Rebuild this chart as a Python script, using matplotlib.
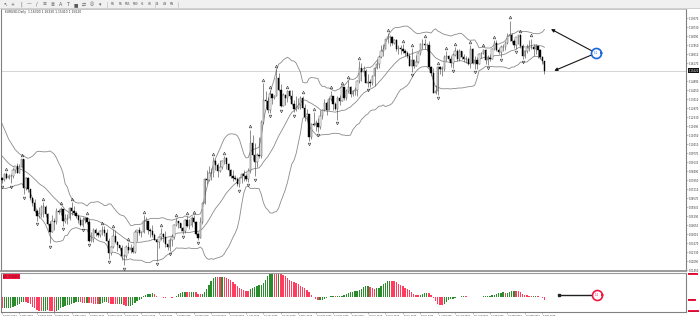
import numpy as np
import pandas as pd
import matplotlib
matplotlib.use("Agg")
import matplotlib.pyplot as plt

plt.rcParams['font.family'] = ['DejaVu Sans']

SYMBOL = "EURUSD,Daily"
PRE_BARS = 37          # bars before the first visible bar (history for BB / AO)
FIRST_OPEN = 1.1050

# ---------------- daily bars, 2 Sep 2024 .. 9 Oct 2025 ----------------
CLOSE = [
    # Sep 2024
    1.1073,1.1044,1.1089,1.1111,1.1085,1.1040,1.1039,1.1012,1.1075,1.1076,1.1132,1.1115,1.1118,1.1160,1.1163,1.1112,1.1180,1.1134,1.1177,1.1163,1.1134,
    # Oct 1-22 2024
    1.1067,1.1045,1.1032,1.0975,1.0975,1.0980,1.0941,1.0936,1.0937,1.0909,1.0891,1.0862,1.0833,1.0867,1.0817,1.0797,
    # Oct 23-31 2024
    1.0783,1.0827,1.0796,1.0815,1.0815,1.0856,1.0883,
    # Nov 2024
    1.0834,1.0879,1.0932,1.0729,1.0802,1.0718,1.0654,1.0623,1.0566,1.0530,1.0541,1.0596,1.0596,1.0545,1.0472,1.0418,1.0495,1.0488,1.0567,1.0556,1.0576,
    # Dec 2024
    1.0497,1.0510,1.0512,1.0587,1.0567,1.0554,1.0529,1.0500,1.0467,1.0502,1.0513,1.0490,1.0350,1.0365,1.0429,1.0406,1.0397,1.0421,1.0429,1.0409,1.0354,
    # Jan 2025
    1.0265,1.0307,1.0390,1.0341,1.0320,1.0300,1.0244,1.0244,1.0306,1.0291,1.0300,1.0272,1.0416,1.0431,1.0410,1.0414,1.0495,1.0492,1.0431,1.0422,1.0392,1.0362,
    # Feb 2025
    1.0345,1.0379,1.0402,1.0382,1.0328,1.0308,1.0362,1.0383,1.0462,1.0493,1.0481,1.0446,1.0420,1.0500,1.0459,1.0466,1.0513,1.0484,1.0398,1.0375,
    # Mar 2025
    1.0484,1.0624,1.0790,1.0783,1.0834,1.0832,1.0918,1.0889,1.0852,1.0880,1.0922,1.0941,1.0901,1.0853,1.0815,1.0800,1.0791,1.0754,1.0801,1.0829,1.0817,
    # Apr 2025
    1.0791,1.0852,1.1048,1.0961,1.0910,1.0960,1.0953,1.1195,1.1357,1.1346,1.1285,1.1400,1.1367,1.1382,1.1511,1.1427,1.1311,1.1389,1.1366,1.1421,1.1384,1.1328,
    # May 2025
    1.1292,1.1298,1.1315,1.1370,1.1300,1.1233,1.1251,1.1089,1.1184,1.1175,1.1187,1.1163,1.1241,1.1280,1.1332,1.1283,1.1363,1.1383,1.1326,1.1290,1.1369,1.1347,
    # Jun 2025
    1.1443,1.1371,1.1420,1.1446,1.1395,1.1419,1.1422,1.1487,1.1585,1.1550,1.1562,1.1478,1.1480,1.1478,1.1522,1.1579,1.1608,1.1661,1.1700,1.1718,1.1787,
    # Jul 2025
    1.1802,1.1800,1.1759,1.1778,1.1714,1.1725,1.1719,1.1701,1.1689,1.1667,1.1598,1.1641,1.1597,1.1627,1.1690,1.1754,1.1755,1.1742,1.1742,1.1589,1.1546,1.1404,1.1415,
    # Aug 2025
    1.1587,1.1572,1.1573,1.1660,1.1665,1.1642,1.1615,1.1676,1.1705,1.1648,1.1700,1.1662,1.1649,1.1648,1.1610,1.1718,1.1618,1.1640,1.1609,1.1680,1.1685,
    # Sep 2025
    1.1711,1.1640,1.1653,1.1646,1.1718,1.1762,1.1710,1.1696,1.1733,1.1733,1.1762,1.1812,1.1815,1.1776,1.1746,1.1800,1.1815,1.1737,1.1665,1.1702,1.1727,1.1734,
    # Oct 1-9 2025
    1.1732,1.1717,1.1740,1.1711,1.1658,1.1630,1.1562,
]
HIGH = [
    1.1090,1.1078,1.1090,1.1120,1.1155,1.1088,1.1068,1.1063,1.1084,1.1109,1.1138,1.1147,1.1189,1.1180,1.1190,1.1168,1.1188,1.1214,1.1189,1.1202,1.1209,
    1.1148,1.1083,1.1060,1.1036,1.0987,1.0990,1.0982,1.0956,1.0954,1.0941,1.0913,1.0898,1.0870,1.0870,1.0868,1.0836,
    1.0803,1.0837,1.0839,1.0827,1.0825,1.0871,1.0885,
    1.0905,1.0900,1.0937,1.0937,1.0806,1.0803,1.0721,1.0659,1.0651,1.0578,1.0594,1.0607,1.0630,1.0610,1.0549,1.0496,1.0533,1.0515,1.0586,1.0580,1.0596,
    1.0577,1.0544,1.0545,1.0590,1.0630,1.0597,1.0565,1.0543,1.0525,1.0523,1.0522,1.0525,1.0505,1.0412,1.0447,1.0444,1.0414,1.0432,1.0456,1.0456,1.0436,
    1.0375,1.0318,1.0437,1.0433,1.0354,1.0325,1.0322,1.0256,1.0320,1.0344,1.0333,1.0317,1.0433,1.0433,1.0450,1.0422,1.0533,1.0520,1.0496,1.0443,1.0468,1.0405,
    1.0350,1.0387,1.0442,1.0407,1.0425,1.0332,1.0375,1.0400,1.0470,1.0514,1.0497,1.0482,1.0451,1.0505,1.0528,1.0505,1.0527,1.0536,1.0492,1.0418,
    1.0522,1.0630,1.0796,1.0854,1.0888,1.0867,1.0947,1.0935,1.0903,1.0925,1.0929,1.0955,1.0951,1.0905,1.0861,1.0858,1.0821,1.0810,1.0803,1.0838,1.0857,
    1.0826,1.0867,1.1144,1.1107,1.1046,1.0980,1.1090,1.1215,1.1474,1.1420,1.1376,1.1423,1.1407,1.1390,1.1573,1.1544,1.1465,1.1402,1.1394,1.1425,1.1422,1.1424,
    1.1354,1.1380,1.1367,1.1380,1.1385,1.1323,1.1293,1.1240,1.1192,1.1266,1.1212,1.1227,1.1286,1.1288,1.1363,1.1346,1.1376,1.1420,1.1383,1.1338,1.1384,1.1386,
    1.1454,1.1448,1.1434,1.1495,1.1451,1.1428,1.1449,1.1494,1.1631,1.1614,1.1593,1.1575,1.1539,1.1504,1.1530,1.1590,1.1641,1.1669,1.1745,1.1753,1.1790,
    1.1829,1.1818,1.1808,1.1790,1.1790,1.1743,1.1747,1.1750,1.1720,1.1700,1.1688,1.1721,1.1643,1.1673,1.1697,1.1759,1.1788,1.1789,1.1760,1.1771,1.1598,1.1578,1.1463,
    1.1597,1.1595,1.1597,1.1671,1.1699,1.1672,1.1667,1.1687,1.1730,1.1719,1.1716,1.1700,1.1683,1.1670,1.1660,1.1742,1.1722,1.1670,1.1658,1.1690,1.1694,
    1.1720,1.1719,1.1677,1.1680,1.1725,1.1780,1.1780,1.1727,1.1745,1.1750,1.1772,1.1828,1.1919,1.1832,1.1791,1.1802,1.1818,1.1821,1.1750,1.1712,1.1755,1.1778,
    1.1790,1.1750,1.1750,1.1726,1.1717,1.1665,1.1633,
]
LOW = [
    1.1040,1.1024,1.1032,1.1075,1.1068,1.1028,1.1003,1.1002,1.1003,1.1069,1.1070,1.1101,1.1083,1.1090,1.1130,1.1083,1.1107,1.1122,1.1120,1.1131,1.1128,
    1.1045,1.1027,1.1007,1.0951,1.0953,1.0955,1.0940,1.0905,1.0922,1.0898,1.0870,1.0856,1.0811,1.0825,1.0813,1.0793,
    1.0761,1.0776,1.0792,1.0790,1.0761,1.0800,1.0832,
    1.0833,1.0845,1.0871,1.0683,1.0711,1.0703,1.0640,1.0597,1.0561,1.0496,1.0517,1.0524,1.0524,1.0523,1.0462,1.0335,1.0424,1.0428,1.0470,1.0540,1.0533,
    1.0460,1.0480,1.0470,1.0500,1.0537,1.0539,1.0517,1.0480,1.0457,1.0452,1.0480,1.0475,1.0343,1.0343,1.0343,1.0384,1.0378,1.0382,1.0397,1.0390,1.0349,
    1.0226,1.0253,1.0301,1.0339,1.0283,1.0284,1.0215,1.0178,1.0228,1.0267,1.0265,1.0266,1.0267,1.0350,1.0393,1.0380,1.0410,1.0434,1.0398,1.0381,1.0380,1.0357,
    1.0211,1.0301,1.0361,1.0343,1.0307,1.0285,1.0283,1.0315,1.0367,1.0456,1.0446,1.0420,1.0402,1.0410,1.0450,1.0440,1.0449,1.0477,1.0393,1.0360,
    1.0381,1.0469,1.0617,1.0760,1.0779,1.0788,1.0805,1.0856,1.0806,1.0844,1.0861,1.0900,1.0866,1.0811,1.0797,1.0778,1.0783,1.0744,1.0733,1.0765,1.0778,
    1.0778,1.0773,1.0834,1.0925,1.0811,1.0880,1.0939,1.0940,1.1180,1.1300,1.1265,1.1264,1.1325,1.1360,1.1380,1.1420,1.1301,1.1315,1.1315,1.1342,1.1360,1.1315,
    1.1266,1.1275,1.1292,1.1290,1.1297,1.1202,1.1215,1.1066,1.1080,1.1170,1.1131,1.1130,1.1149,1.1217,1.1276,1.1247,1.1281,1.1350,1.1283,1.1285,1.1210,1.1316,
    1.1349,1.1356,1.1357,1.1402,1.1372,1.1380,1.1393,1.1385,1.1475,1.1489,1.1526,1.1474,1.1446,1.1446,1.1460,1.1452,1.1574,1.1584,1.1655,1.1665,1.1716,
    1.1759,1.1738,1.1744,1.1752,1.1702,1.1683,1.1682,1.1687,1.1670,1.1652,1.1593,1.1556,1.1585,1.1593,1.1618,1.1674,1.1717,1.1714,1.1700,1.1585,1.1522,1.1401,1.1400,
    1.1392,1.1538,1.1527,1.1560,1.1631,1.1628,1.1588,1.1584,1.1669,1.1630,1.1628,1.1646,1.1622,1.1614,1.1600,1.1583,1.1610,1.1573,1.1574,1.1608,1.1652,
    1.1680,1.1607,1.1605,1.1630,1.1645,1.1707,1.1703,1.1680,1.1662,1.1700,1.1713,1.1749,1.1770,1.1760,1.1727,1.1720,1.1755,1.1727,1.1645,1.1655,1.1690,1.1700,
    1.1716,1.1668,1.1680,1.1650,1.1648,1.1612,1.1541,
]
HOLIDAYS = ["2024-12-25", "2025-01-01"]

# right price scale labels
PRICE_TICKS = [1.0145, 1.0209, 1.0273, 1.0337, 1.0401, 1.0465, 1.0529, 1.0593, 1.0657, 1.0721,
               1.0785, 1.0849, 1.0913, 1.0977, 1.1041, 1.1105, 1.1169, 1.1233, 1.1297, 1.1361,
               1.1425, 1.1489, 1.1617, 1.1681, 1.1745, 1.1809, 1.1873, 1.1937]
DATE_TICK_STEP = 8
TIMEFRAMES = ["M1", "M5", "M15", "M30", "H1", "H4", "D1", "W1", "MN"]
TOOL_ICONS = ["\u2196", "+", "|", "\u2014", "/", "\u2261", "\u2263", "A", "T", "\u25a0", "\u21c4", "\u25ce", "\u25be"]

# ---------------- derived series ----------------
dates = pd.bdate_range("2024-09-02", "2025-10-09")
dates = dates[~dates.isin(pd.to_datetime(HOLIDAYS))]
close = np.array(CLOSE); high = np.array(HIGH); low = np.array(LOW)
n = min(len(close), len(high), len(low), len(dates))
close, high, low, dates = close[:n], high[:n], low[:n], dates[:n]
open_ = np.concatenate([[FIRST_OPEN], close[:-1]])

cs = pd.Series(close)
bb_mid = cs.rolling(20).mean().values
bb_sd = cs.rolling(20).std(ddof=0).values
bb_up = bb_mid + 2 * bb_sd
bb_lo = bb_mid - 2 * bb_sd

med = pd.Series((high + low) / 2)
ao = (med.rolling(5).mean() - med.rolling(34).mean()).values

x = np.arange(n) - PRE_BARS
vis = slice(PRE_BARS, n)
xv = x[vis]
o, c, h, l = open_[vis], close[vis], high[vis], low[vis]
last = xv[-1]

# ---------------- figure / layout (pixel based, 700x320) ----------------
W, H = 700, 320
fig = plt.figure(figsize=(7, 3.2), dpi=100)
AX_R = 686
MAIN_T, MAIN_B = 8.5, 271
IND_T, IND_B = 272.5, 311.5
ax = fig.add_axes([0.5 / W, 1 - MAIN_B / H, (AX_R - 0.5) / W, (MAIN_B - MAIN_T) / H])
ax2 = fig.add_axes([0.5 / W, 1 - IND_B / H, (AX_R - 0.5) / W, (IND_B - IND_T) / H])

PX_PER_BAR = 2.18
X0 = 1.5
xlim = (-X0 / PX_PER_BAR, (AX_R - X0) / PX_PER_BAR)

# toolbar
fig.patches.append(plt.Rectangle((0, 1 - 8 / H), 1, 8 / H, transform=fig.transFigure,
                                 facecolor="#f0f0f0", edgecolor="none", zorder=0))
fig.add_artist(plt.Line2D([0, 1], [1 - 8 / H, 1 - 8 / H], transform=fig.transFigure,
                          color="#c8c8c8", lw=0.6))
for k, ic in enumerate(TOOL_ICONS):
    fig.text((5 + k * 7.9) / W, 1 - 4.2 / H, ic, fontsize=3.4, color="#5a5a5a",
             ha="center", va="center")
for k, tf in enumerate(TIMEFRAMES):
    fig.text((113 + k * 7.4) / W, 1 - 4.2 / H, tf, fontsize=1.9, color="#505050",
             ha="center", va="center")
for sx in (107, 155, 178):
    fig.add_artist(plt.Line2D([sx / W, sx / W], [1 - 7 / H, 1 - 1.5 / H],
                              transform=fig.transFigure, color="#c0c0c0", lw=0.5))

# ---------------- main chart ----------------
ax.set_xlim(*xlim)
ax.set_ylim(1.1937 - (MAIN_B - 18) * 0.000711, 1.1937 + (18 - MAIN_T) * 0.000711)
ax.axhline(c[-1], color="#cfcfcf", lw=0.6, zorder=1)

ax.plot(x, bb_up, color="#8a8a8a", lw=0.6, zorder=2)
ax.plot(x, bb_mid, color="#8a8a8a", lw=0.6, zorder=2)
ax.plot(x, bb_lo, color="#8a8a8a", lw=0.6, zorder=2)

hi = np.maximum(h, np.maximum(o, c))
lo = np.minimum(l, np.minimum(o, c))
ax.vlines(xv, lo, hi, color="#505050", lw=0.45, zorder=3)
bull = c >= o
ax.bar(xv[bull], np.maximum((c - o)[bull], 0.00012), bottom=o[bull], width=0.62,
       color="#ffffff", edgecolor="#5a5a5a", lw=0.35, zorder=4)
ax.bar(xv[~bull], (o - c)[~bull], bottom=c[~bull], width=0.62,
       color="#000000", edgecolor="#000000", lw=0.3, zorder=4)

# Bill Williams fractals
FRACTAL_GAP = 0.0023
fu = [i for i in range(max(2, PRE_BARS), n - 2)
      if high[i] > max(high[i - 1], high[i - 2]) and high[i] >= max(high[i + 1], high[i + 2])]
fd = [i for i in range(max(2, PRE_BARS), n - 2)
      if low[i] < min(low[i - 1], low[i - 2]) and low[i] <= min(low[i + 1], low[i + 2])]
ax.plot(x[fu], high[fu] + FRACTAL_GAP, ls="none", marker="^", ms=1.9, mfc="none",
        mec="#404040", mew=0.45, zorder=5)
ax.plot(x[fd], low[fd] - FRACTAL_GAP, ls="none", marker="v", ms=1.9, mfc="none",
        mec="#404040", mew=0.45, zorder=5)

# price scale
ax.yaxis.tick_right()
ax.set_yticks(PRICE_TICKS)
ax.set_yticklabels([f"{v:.5f}" for v in PRICE_TICKS])
ax.tick_params(axis="y", labelsize=1.8, labelcolor="#303030", length=1.2, width=0.4,
               color="#909090", pad=0.5)
ax.set_xticks([])
for side in ("left", "right"):
    ax.spines[side].set_color("#808080"); ax.spines[side].set_linewidth(0.8)
ax.spines["top"].set_color("#b0b0b0"); ax.spines["top"].set_linewidth(0.5)
ax.spines["bottom"].set_color("#9a9a9a"); ax.spines["bottom"].set_linewidth(1.4)

ax.annotate(f"{c[-1]:.5f}", xy=(1, c[-1]), xycoords=("axes fraction", "data"),
            xytext=(2.2, 0), textcoords="offset pixels", ha="left", va="center",
            fontsize=1.8, color="white", annotation_clip=False,
            bbox=dict(boxstyle="square,pad=0.25", fc="#111111", ec="none"))

ax.text(0.007, 1 - 3.8 / (MAIN_B - MAIN_T),
        f"{SYMBOL}  {o[-1]:.5f} {h[-1]:.5f} {l[-1]:.5f} {c[-1]:.5f}",
        transform=ax.transAxes, fontsize=2.2, color="#303030", va="center", ha="left")

# annotation: arrows to the band ends + blue circle
CIRCLE_DX, TIP1_DX, TIP2_DX, CIRCLE_FRAC = 23.7, 3.0, 4.5, 0.43
tip1 = (last + TIP1_DX, bb_up[-1] + 0.0004)
tip2 = (last + TIP2_DX, c[-1])
cen = (last + CIRCLE_DX, c[-1] + CIRCLE_FRAC * (bb_up[-1] - c[-1]))
for tip in (tip1, tip2):
    ax.annotate("", xy=tip, xytext=cen, annotation_clip=False,
                arrowprops=dict(arrowstyle="-|>", color="#151515", lw=0.8,
                                mutation_scale=4.5, shrinkA=0, shrinkB=0))
ax.plot(*cen, marker="o", ms=7.2, mfc="white", mec="#1a66e0", mew=1.2, zorder=6, clip_on=False)
ax.annotate("\u25b6", xy=cen, xytext=(5.3, 0), textcoords="offset pixels", fontsize=3.2,
            color="#1a66e0", ha="center", va="center", zorder=7)
ax.text(*cen, "1:1", fontsize=1.9, color="#1a66e0", ha="center", va="center", zorder=7)

# ---------------- Awesome Oscillator panel ----------------
aov = ao[vis]
rising = np.concatenate([[aov[0] >= ao[PRE_BARS - 1]], aov[1:] >= aov[:-1]])
cols = np.where(rising, "#2a8c2a", "#ff3d5e")
ax2.bar(xv, aov, width=0.62, color=cols, lw=0)
ax2.set_xlim(*xlim)
ax2.set_ylim(np.nanmin(aov), np.nanmax(aov))
ax2.yaxis.tick_right()
ax2.set_yticks([])
for side in ("left", "right"):
    ax2.spines[side].set_color("#808080"); ax2.spines[side].set_linewidth(0.8)
ax2.spines["top"].set_color("#9a9a9a"); ax2.spines["top"].set_linewidth(0.8)
ax2.spines["bottom"].set_color("#808080"); ax2.spines["bottom"].set_linewidth(0.8)

tick_idx = list(range(0, len(xv), DATE_TICK_STEP))
ax2.set_xticks([xv[i] for i in tick_idx])
ax2.tick_params(axis="x", direction="out", length=1.6, width=0.4, color="#909090",
                labelbottom=False)
for i in tick_idx:
    d = dates[PRE_BARS + i]
    ax2.annotate(f"{d.day} {d.strftime('%b %Y')}", xy=(xv[i], 0),
                 xycoords=("data", "axes fraction"), xytext=(1.0, -4),
                 textcoords="offset pixels", fontsize=1.65, color="#303030",
                 ha="left", va="center", annotation_clip=False)

RED_BOX = "#f0163f"
for val, txt, dy in ((np.nanmax(aov), f"{np.nanmax(aov):.5f}", -1.5),
                     (np.nanmin(aov), f"{np.nanmin(aov):.5f}", 0.5),
                     (aov[-1], f"{aov[-1]:.3f}", 0)):
    ax2.annotate(txt, xy=(1, val), xycoords=("axes fraction", "data"),
                 xytext=(2.2, dy), textcoords="offset pixels", ha="left", va="center",
                 fontsize=1.7, color="#7a0010", annotation_clip=False,
                 bbox=dict(boxstyle="square,pad=0.2", fc=RED_BOX, ec="none"))

ax2.text(0.004, 0.94, f"AO {aov[-1]:.5f}", transform=ax2.transAxes, fontsize=1.9,
         color="#7a0010", ha="left", va="top",
         bbox=dict(boxstyle="square,pad=0.2", fc=RED_BOX, ec="none"))

# annotation in the oscillator panel
ao_rng = np.nanmax(aov) - np.nanmin(aov)
ly = 0.05 * ao_rng
ax2.plot([last + 6.7, last + 21.4], [ly, ly], color="#202020", lw=1.0, clip_on=False)
ax2.plot(last + 6.7, ly, marker="s", ms=1.8, color="#202020", clip_on=False)
ax2.plot(last + 24.2, ly, marker="o", ms=7.2, mfc="white", mec="#f0163f", mew=1.2,
         clip_on=False, zorder=6)
ax2.annotate("\u25b6", xy=(last + 24.2, ly), xytext=(5.3, 0), textcoords="offset pixels",
             fontsize=3.2, color="#f0163f", ha="center", va="center", zorder=7)
ax2.text(last + 24.2, ly, "1:1", fontsize=1.9, color="#f0163f", ha="center", va="center",
         zorder=7)

fig.savefig("out.png", dpi=100)
